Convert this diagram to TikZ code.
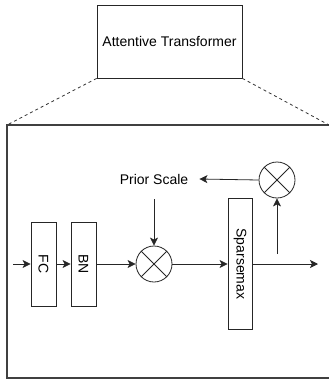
\documentclass[tikz,border=0pt]{standalone}
\usepackage{fontspec}
\setmainfont{Liberation Sans}
\usetikzlibrary{arrows.meta}
\begin{document}
\begin{tikzpicture}[x=1pt,y=-1pt,
  every node/.style={font=\fontsize{14}{16}\selectfont},
  box/.style={draw=black!85, line width=0.8pt, rectangle, inner sep=0pt},
  mult/.style={draw=black!85, line width=0.8pt, circle, minimum size=36pt, inner sep=0pt},
  arr/.style={draw=black!85, line width=0.8pt, -{Stealth[length=8pt,width=8pt,inset=2pt]}},
  dashln/.style={draw=black!80, line width=0.8pt, dash pattern=on 3pt off 3pt},
  frame/.style={draw=black!75, line width=1.3pt}]
\useasboundingbox (0,0) rectangle (329,383);
% top box
\node[box, minimum width=145pt, minimum height=73pt] (at) at (169.5,41.5) {Attentive Transformer};
% frame corners
\coordinate (fl) at (7,125);
\coordinate (fr) at (329,125);
\coordinate (bl) at (7,378);
\coordinate (br) at (329,378);
\draw[frame] (fr) -- (fl) -- (bl) -- (br);
\draw[dashln] (at.south west) -- (fl);
\draw[dashln] (at.south east) -- (fr);
% blocks
\node[box, minimum width=25pt, minimum height=84pt] (fc) at (43.5,264) {\rotatebox{-90}{FC}};
\node[box, minimum width=25pt, minimum height=84pt] (bn) at (83.5,264) {\rotatebox{-90}{BN}};
\node[mult] (m1) at (154,264) {};
\draw[draw=black!85, line width=0.8pt] (m1.north west) -- (m1.south east) (m1.north east) -- (m1.south west);
\node[box, minimum width=24pt, minimum height=131pt] (sp) at (240,264) {\rotatebox{-90}{Sparsemax}};
\node[mult] (m2) at (277,180) {};
\draw[draw=black!85, line width=0.8pt] (m2.north west) -- (m2.south east) (m2.north east) -- (m2.south west);
\node[inner xsep=11pt, inner ysep=15pt] (ps) at (154,179) {Prior Scale};
% connectors
\coordinate (in) at (13,264);
\coordinate (out) at (318,264);
\coordinate (up) at (277,254);
\draw[arr] (in) -- (fc.west);
\draw[arr] (fc.east) -- (bn.west);
\draw[arr] (bn.east) -- (m1.west);
\draw[arr] (m1.east) -- (sp.west);
\draw[arr] (sp.east) -- (out);
\draw[arr] (up) -- (m2.south);
\draw[arr] (m2.west) -- (ps.east);
\draw[arr] (ps.south) -- (m1.north);
\end{tikzpicture}
\end{document}
